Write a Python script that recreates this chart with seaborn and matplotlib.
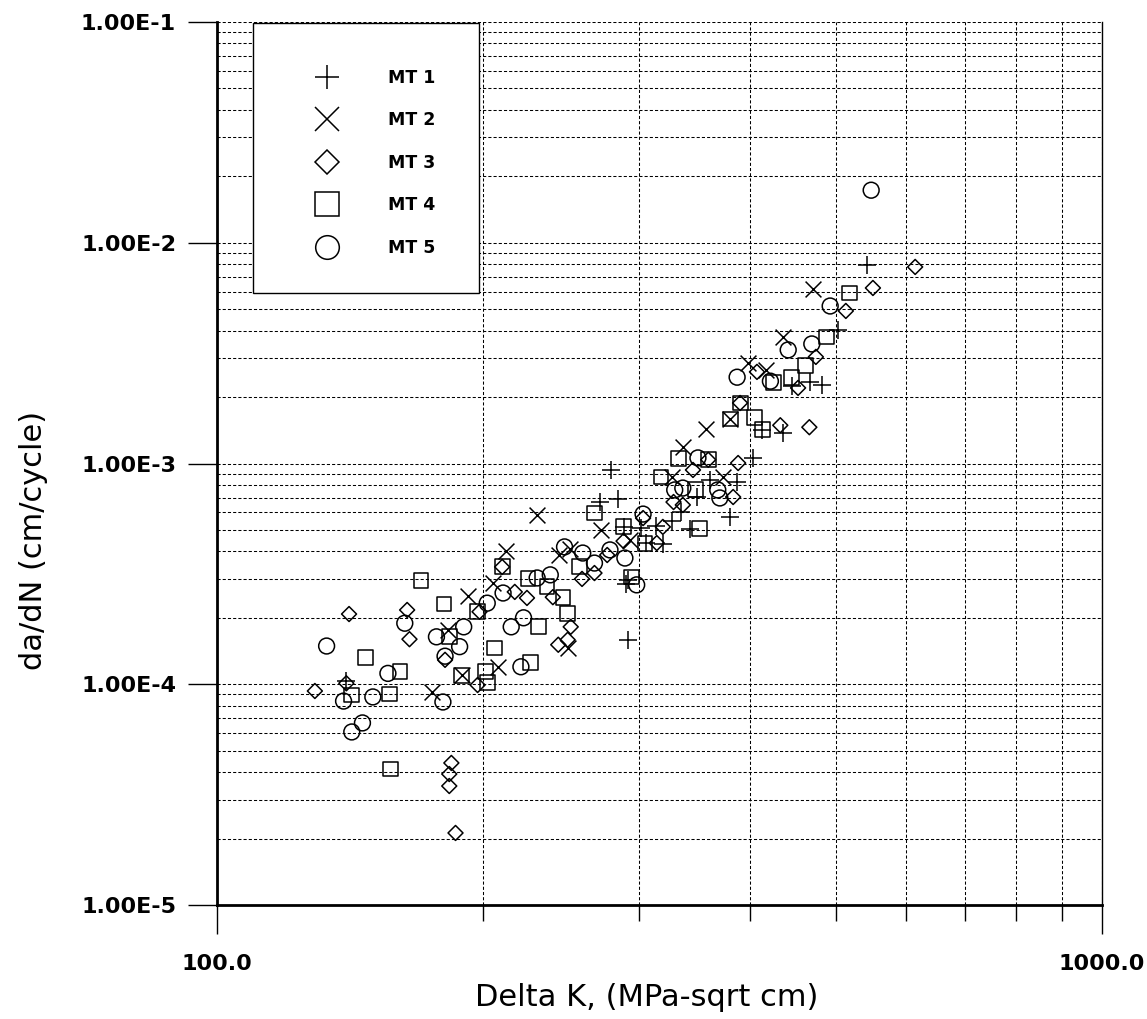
import numpy as np
import matplotlib
matplotlib.use("Agg")
import matplotlib.pyplot as plt
import seaborn as sns
from matplotlib.ticker import LogLocator, FixedLocator, FuncFormatter, NullFormatter
from matplotlib.lines import Line2D
from matplotlib.patches import Rectangle

# ---------------- data ----------------
series_names = ["MT 1", "MT 2", "MT 3", "MT 4", "MT 5"]

mt1_dk = [543, 503, 468, 483, 436, 413, 403, 361, 387, 349, 334, 380, 279, 271, 284,
          301, 313, 327, 342, 288, 305, 319, 291, 290, 291, 140, 446]
mt1_dadn = [7.93e-3, 4.02e-3, 2.34e-3, 2.27e-3, 1.37e-3, 1.42e-3, 1.06e-3, 8.42e-4, 8.24e-4,
            7.05e-4, 6.03e-4, 5.72e-4, 9.35e-4, 6.69e-4, 6.90e-4, 5.10e-4, 5.21e-4, 5.49e-4,
            5.05e-4, 5.16e-4, 4.36e-4, 4.32e-4, 2.97e-4, 2.86e-4, 1.59e-4, 1.03e-4, 2.25e-3]

mt2_dk = [471, 436, 398, 417, 380, 357, 336, 327, 373, 271.5, 293, 230, 250.5, 243.5, 212,
          205, 192, 182.3, 249, 208, 175, 189]
mt2_dadn = [6.17e-3, 3.74e-3, 2.85e-3, 2.65e-3, 1.59e-3, 1.43e-3, 1.19e-3, 8.69e-4, 8.69e-4,
            5.00e-4, 4.50e-4, 5.84e-4, 4.10e-4, 3.85e-4, 4.02e-4, 2.88e-4, 2.51e-4, 1.76e-4,
            1.46e-4, 1.20e-4, 9.22e-5, 1.10e-4]

mt3_dk = [615, 551, 513.5, 475, 453.5, 407.5, 433, 467, 390, 359, 388, 345, 383, 328, 336,
          303, 319, 314, 276, 267, 258.5, 239.6, 224, 217, 210, 198, 251, 243, 249, 197,
          181, 164, 165, 141, 140, 129, 184, 183, 183, 186, 288]
mt3_dadn = [7.77e-3, 6.24e-3, 4.91e-3, 3.04e-3, 2.20e-3, 2.60e-3, 1.49e-3, 1.46e-3, 1.88e-3,
            1.04e-3, 1.005e-3, 9.35e-4, 7.05e-4, 6.69e-4, 6.49e-4, 5.66e-4, 5.16e-4, 4.36e-4,
            3.85e-4, 3.19e-4, 3.00e-4, 2.48e-4, 2.46e-4, 2.62e-4, 3.40e-4, 2.13e-4, 1.82e-4,
            1.51e-4, 1.59e-4, 9.92e-5, 1.29e-4, 2.17e-4, 1.60e-4, 2.08e-4, 1.01e-4, 9.32e-5,
            4.40e-5, 3.92e-5, 3.46e-5, 2.12e-5, 4.45e-4]

mt4_dk = [519, 488, 462, 446, 425, 390, 380, 405, 413, 332, 359, 317.5, 347, 351, 267,
          288, 304.5, 294, 257, 236, 224.6, 246, 249, 231, 210, 197, 183, 206, 189, 201,
          202, 226, 180.5, 170, 147, 161, 156.5, 142, 157]
mt4_dadn = [5.92e-3, 3.74e-3, 2.79e-3, 2.46e-3, 2.32e-3, 1.88e-3, 1.59e-3, 1.62e-3, 1.42e-3,
            1.05e-3, 1.04e-3, 8.69e-4, 7.59e-4, 5.10e-4, 5.97e-4, 5.16e-4, 4.36e-4, 3.06e-4,
            3.40e-4, 2.76e-4, 3.00e-4, 2.48e-4, 2.10e-4, 1.82e-4, 3.40e-4, 2.13e-4, 1.65e-4,
            1.46e-4, 1.10e-4, 1.14e-4, 1.02e-4, 1.26e-4, 2.31e-4, 2.94e-4, 1.32e-4, 1.14e-4,
            9.03e-5, 8.94e-5, 4.13e-5]

mt5_dk = [548.5, 493, 470, 442, 387, 422, 349.5, 329, 336, 368, 370, 303, 289, 278, 298,
          247, 259, 267, 238, 230, 210.5, 202, 222, 215, 220.5, 190, 188, 177, 181, 180,
          163, 156, 150, 139, 146, 142, 133]
mt5_dadn = [1.73e-2, 5.17e-3, 3.48e-3, 3.27e-3, 2.46e-3, 2.36e-3, 1.06e-3, 7.59e-4, 7.74e-4,
            7.59e-4, 6.98e-4, 5.90e-4, 3.73e-4, 4.06e-4, 2.82e-4, 4.19e-4, 3.93e-4, 3.54e-4,
            3.13e-4, 3.03e-4, 2.59e-4, 2.33e-4, 2.00e-4, 1.82e-4, 1.20e-4, 1.82e-4, 1.48e-4,
            1.64e-4, 1.34e-4, 8.31e-5, 1.89e-4, 1.12e-4, 8.76e-5, 8.39e-5, 6.68e-5, 6.08e-5,
            1.49e-4]

x_major_ticks = [100, 1000]
x_label = "Delta K, (MPa-sqrt cm)"
y_label = "da/dN (cm/cycle)"

# ---------------- styling ----------------
plt.rcParams['font.family'] = ['DejaVu Sans']

series = [
    ("MT 1", mt1_dk, mt1_dadn, "+", 150, 17.0),
    ("MT 2", mt2_dk, mt2_dadn, "x", 130, 17.0),
    ("MT 3", mt3_dk, mt3_dadn, "D", 58, 12.0),
    ("MT 4", mt4_dk, mt4_dadn, "s", 115, 17.0),
    ("MT 5", mt5_dk, mt5_dadn, "o", 130, 17.0),
]

W, H = 1147, 1019
L, R, T, B = 217, 1102, 22, 905
fig = plt.figure(figsize=(W / 100, H / 100), dpi=100)
fig.patch.set_facecolor("white")
ax = fig.add_axes([L / W, 1 - B / H, (R - L) / W, (B - T) / H])
ax.set_xscale("log")
ax.set_yscale("log")

for name, xs, ys, m, s, _ in series:
    if m in ("+", "x"):
        sns.scatterplot(x=xs, y=ys, marker=m, s=s, color="black", edgecolor="black",
                        linewidth=1.1, ax=ax, legend=False, zorder=3)
    else:
        sns.scatterplot(x=xs, y=ys, marker=m, s=s, color="black", facecolor="none",
                        edgecolor="black", linewidth=1.1, ax=ax, legend=False, zorder=3)

ax.set_xlim(100, 1000)
ax.set_ylim(1e-5, 1e-1)

ax.xaxis.set_major_locator(FixedLocator(x_major_ticks))
ax.xaxis.set_minor_locator(LogLocator(base=10, subs=np.arange(2, 10), numticks=20))
ax.xaxis.set_major_formatter(FuncFormatter(lambda v, p: f"{v:.1f}"))
ax.xaxis.set_minor_formatter(NullFormatter())


def yfmt(v, p):
    e = int(np.round(np.log10(v)))
    return f"{v / 10 ** e:.2f}E{e}"


ax.yaxis.set_major_locator(LogLocator(base=10, numticks=10))
ax.yaxis.set_minor_locator(LogLocator(base=10, subs=np.arange(2, 10), numticks=20))
ax.yaxis.set_major_formatter(FuncFormatter(yfmt))
ax.yaxis.set_minor_formatter(NullFormatter())

ax.grid(True, which="both", axis="both", color="black", linestyle=(0, (3, 2)),
        linewidth=0.75, zorder=1)
ax.set_axisbelow(True)

ax.tick_params(axis="x", which="major", direction="out", length=21, width=1.0,
               pad=14, labelsize=16)
ax.tick_params(axis="x", which="minor", direction="out", length=11.5, width=1.0)
ax.tick_params(axis="y", which="major", direction="out", length=21, width=1.0,
               pad=8.5, labelsize=16)
ax.tick_params(axis="y", which="minor", length=0)
for lab in ax.get_xticklabels() + ax.get_yticklabels():
    lab.set_fontweight("bold")

ax.spines["top"].set_visible(False)
ax.spines["left"].set_linewidth(2.0)
ax.spines["bottom"].set_linewidth(2.0)
ax.spines["right"].set_linewidth(1.0)

ax.set_xlabel(x_label, fontsize=22)
ax.xaxis.set_label_coords((647 - L) / (R - L), (B - 983) / (B - T))
ax.set_ylabel(y_label, fontsize=22)
ax.yaxis.set_label_coords((48 - L) / (R - L), (B - 540) / (B - T))

# legend box
ax.add_patch(Rectangle(((253 - L) / (R - L), (B - 293) / (B - T)), 226 / (R - L), 270 / (B - T),
                       transform=ax.transAxes, facecolor="white", edgecolor="black",
                       linewidth=1.0, zorder=4, clip_on=False))
handles = [Line2D([], [], marker=m, linestyle="none", markersize=ms, markerfacecolor="none",
                  markeredgecolor="black", markeredgewidth=1.1)
           for name, xs, ys, m, s, ms in series]
leg = ax.legend(handles, series_names, loc="upper left",
                bbox_to_anchor=((300.6 - L) / (R - L), (B - 60) / (B - T)),
                frameon=False, borderpad=0, handlelength=2.0, handletextpad=2.56,
                labelspacing=1.415, prop={"weight": "bold", "size": 12.5})
leg.set_zorder(5)

fig.savefig("out.png", dpi=100)
